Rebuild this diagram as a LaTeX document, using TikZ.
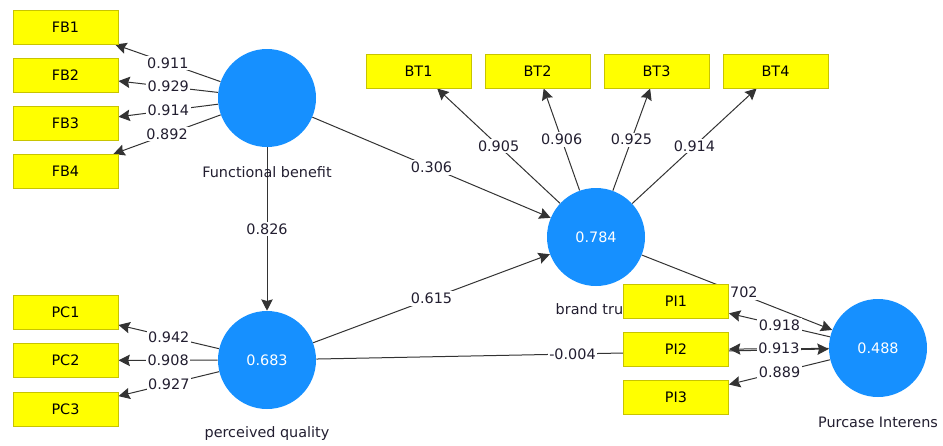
\documentclass[tikz,border=0pt]{standalone}
\usepackage{fontspec}
\setmainfont{DejaVu Sans}
\usetikzlibrary{arrows.meta}
\pgfdeclarelayer{edges}
\pgfsetlayers{edges,main}
\definecolor{lvblue}{RGB}{22,144,255}
\definecolor{indfill}{RGB}{255,255,0}
\definecolor{indline}{RGB}{200,196,0}
\definecolor{ink}{RGB}{34,30,48}
\begin{document}
\begin{tikzpicture}[x=0.75pt,y=-0.75pt,
  font=\fontsize{10.8pt}{12pt}\selectfont, text=ink,
  indbox/.style={draw=indline, fill=indfill, minimum width=78.75pt,
    minimum height=25.5pt, inner sep=0pt, line width=0.75pt, text=black},
  latent/.style={circle, fill=lvblue, minimum size=73.5pt, inner sep=0pt, text=white},
  link/.style={draw=black!80, line width=0.75pt,
    -{Stealth[length=8.5pt,width=8.5pt,inset=1.2pt]}},
  coef/.style={fill=white, inner sep=1.2pt, text=ink}]
\useasboundingbox (0,0) rectangle (943,446);

% latent variables and their names
\node[latent] (FB) at (267,98) {};
\node (FBn) at (267,172) {Functional benefit};
\node[latent] (PQ) at (267,360) {0.683};
\node (PQn) at (267,434) {perceived quality};
\node[latent] (BT) at (596,237) {0.784};
\node (BTn) at (596,309) {brand trust};
\node[latent] (PI) at (878,348) {0.488};
\node (PIn) at (878,422) {Purcase Interens};

% indicators
\node[indbox] (FB1) at (65.5,27) {FB1};
\node[indbox] (FB2) at (65.5,75) {FB2};
\node[indbox] (FB3) at (65.5,123.5) {FB3};
\node[indbox] (FB4) at (65.5,171.5) {FB4};
\node[indbox] (PC1) at (65.5,312.5) {PC1};
\node[indbox] (PC2) at (65.5,360.5) {PC2};
\node[indbox] (PC3) at (65.5,409) {PC3};
\node[indbox] (BT1) at (418.5,71) {BT1};
\node[indbox] (BT2) at (537.5,71) {BT2};
\node[indbox] (BT3) at (656.5,71) {BT3};
\node[indbox] (BT4) at (775.5,71) {BT4};
\node[indbox] (PI1) at (676,301) {PI1};
\node[indbox] (PI2) at (676,349.5) {PI2};
\node[indbox] (PI3) at (676,397.5) {PI3};

\begin{pgfonlayer}{edges}
% path coefficients
\draw[link] (FB) -- node[coef] {0.826} (PQ);
\draw[link] (FB) -- node[coef] {0.306} (BT);
\draw[link] (PQ) -- node[coef] {0.615} (BT);
\draw[link] (PQ) -- node[coef] {-0.004} (PI);
\draw[link] (BT) -- node[coef] {0.702} (PI);
% outer loadings
\draw[link] (FB) -- node[coef] {0.911} (FB1);
\draw[link] (FB) -- node[coef] {0.929} (FB2);
\draw[link] (FB) -- node[coef] {0.914} (FB3);
\draw[link] (FB) -- node[coef] {0.892} (FB4);
\draw[link] (PQ) -- node[coef] {0.942} (PC1);
\draw[link] (PQ) -- node[coef] {0.908} (PC2);
\draw[link] (PQ) -- node[coef] {0.927} (PC3);
\draw[link] (BT) -- node[coef] {0.905} (BT1);
\draw[link] (BT) -- node[coef] {0.906} (BT2);
\draw[link] (BT) -- node[coef] {0.925} (BT3);
\draw[link] (BT) -- node[coef] {0.914} (BT4);
\draw[link] (PI) -- node[coef] {0.918} (PI1);
\draw[link] (PI) -- node[coef] {0.913} (PI2);
\draw[link] (PI) -- node[coef] {0.889} (PI3);
\end{pgfonlayer}
\end{tikzpicture}
\end{document}
